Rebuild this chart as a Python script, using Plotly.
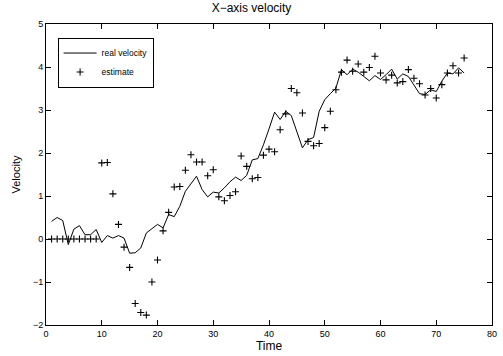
import plotly.graph_objects as go

time = list(range(1, 76))
real_velocity = [
    0.41, 0.50, 0.43, -0.13, 0.23, 0.31, 0.10, 0.10, 0.22, -0.08,
    0.08, 0.02, 0.08, 0.02, -0.33, -0.32, -0.21, 0.14, 0.24, 0.34,
    0.26, 0.57, 0.52, 0.76, 1.11, 1.30, 1.46, 1.15, 0.98, 1.09,
    1.07, 1.19, 1.33, 1.44, 1.36, 1.48, 1.84, 1.87, 2.19, 2.56,
    2.95, 2.78, 2.97, 2.87, 2.47, 2.12, 2.31, 2.36, 2.97, 3.24,
    3.38, 3.51, 3.94, 3.82, 3.95, 3.88, 3.78, 3.68, 3.80, 3.71,
    3.82, 3.95, 3.72, 3.84, 3.78, 3.59, 3.38, 3.36, 3.47, 3.43,
    3.67, 3.86, 3.84, 3.98, 3.86,
]
estimate = [
    0, 0, 0, 0, 0, 0, 0, 0, 0, 1.77,
    1.78, 1.05, 0.34, -0.19, -0.66, -1.50, -1.71, -1.77, -1.00, -0.49,
    0.19, 0.62, 1.21, 1.22, 1.60, 1.96, 1.79, 1.79, 1.47, 1.61,
    0.98, 0.89, 1.01, 1.10, 1.93, 1.69, 1.40, 1.43, 1.95, 2.09,
    2.03, 2.54, 2.91, 3.50, 3.40, 2.93, 2.27, 2.17, 2.22, 2.59,
    2.97, 3.47, 3.88, 4.16, 3.90, 4.07, 3.88, 3.99, 4.25, 3.86,
    3.70, 3.81, 3.63, 3.66, 3.94, 3.74, 3.61, 3.35, 3.50, 3.28,
    3.59, 3.86, 4.03, 3.86, 4.21,
]
x_ticks = [0, 10, 20, 30, 40, 50, 60, 70, 80]
y_ticks = [-2, -1, 0, 1, 2, 3, 4, 5]

font = "Liberation Sans, Arial, sans-serif"

fig = go.Figure()
fig.add_trace(go.Scatter(
    x=time, y=real_velocity, mode="lines", name="real velocity",
    line=dict(color="black", width=1),
))
fig.add_trace(go.Scatter(
    x=time, y=estimate, mode="markers", name="estimate",
    marker=dict(symbol="cross-thin", size=5, color="black",
                line=dict(color="black", width=1.1)),
))

axis_common = dict(
    showgrid=False, zeroline=False, showline=True, linecolor="black",
    linewidth=1, mirror="ticks", ticks="inside", ticklen=5,
    tickcolor="black", tickfont=dict(family=font, size=9, color="black"),
)
fig.update_xaxes(range=[0, 80], tickvals=x_ticks,
                 title=dict(text="Time", font=dict(family=font, size=12, color="black"), standoff=2),
                 **axis_common)
fig.update_yaxes(range=[-2, 5], tickvals=y_ticks,
                 title=dict(text="Velocity", font=dict(family=font, size=11, color="black"), standoff=10),
                 **axis_common)

fig.update_layout(
    width=503, height=356,
    margin=dict(l=46, r=6, t=24, b=31),
    paper_bgcolor="white", plot_bgcolor="white",
    title=dict(text="X\u2212axis velocity", x=0.5, xanchor="center", y=0.977, yanchor="middle",
               font=dict(family=font, size=12, color="black")),
    showlegend=True,
    legend=dict(x=0.026, y=0.955, xanchor="left", yanchor="top",
                bgcolor="white", bordercolor="black", borderwidth=1,
                font=dict(family=font, size=8.5, color="black"),
                tracegroupgap=0, itemwidth=33),
)

fig.write_html("out.html")
